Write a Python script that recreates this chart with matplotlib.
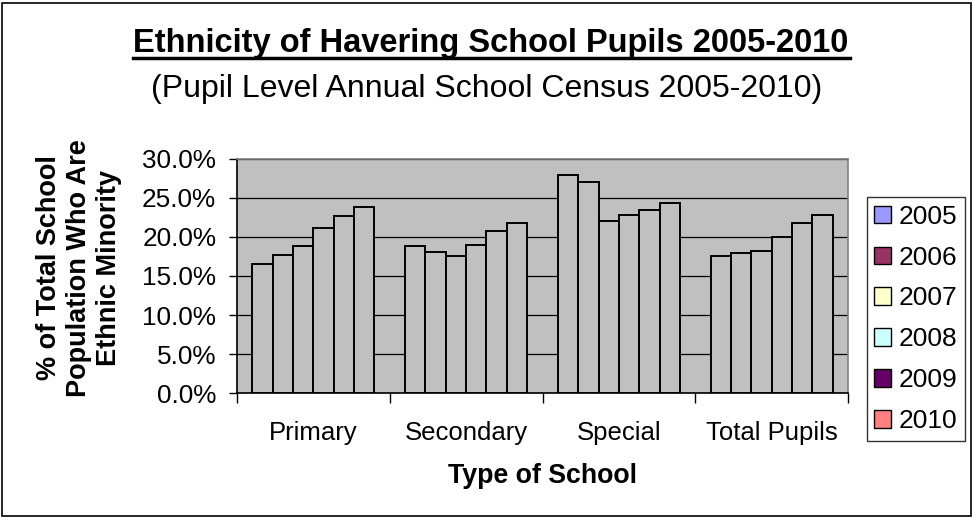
import matplotlib
matplotlib.use("Agg")
import matplotlib.pyplot as plt
from matplotlib.patches import Rectangle
import numpy as np

plt.rcParams['font.family'] = ['Liberation Sans', 'DejaVu Sans']

categories = ["Primary", "Secondary", "Special", "Total Pupils"]
years = ["2005", "2006", "2007", "2008", "2009", "2010"]
values = {
    "2005": [16.5, 18.8, 27.9, 17.5],
    "2006": [17.7, 18.1, 27.0, 17.9],
    "2007": [18.8, 17.5, 22.0, 18.2],
    "2008": [21.1, 19.0, 22.8, 20.0],
    "2009": [22.6, 20.7, 23.4, 21.8],
    "2010": [23.8, 21.8, 24.3, 22.8],
}
legend_colors = ["#9999FF", "#993366", "#FFFFCC", "#CCFFFF", "#660066", "#FF8080"]

W, H = 973, 517
fig = plt.figure(figsize=(W / 100, H / 100), dpi=100)
fig.patch.set_facecolor("white")

ax = fig.add_axes([237 / W, 1 - 393.3 / H, (848 - 237) / W, (393.3 - 158.5) / H])
ax.set_facecolor("#C0C0C0")

n = len(years)
group_w = 0.8
bw = group_w / n
x = np.arange(len(categories))
for i, yr in enumerate(years):
    ax.bar(x - group_w / 2 + bw * (i + 0.5), values[yr], width=bw,
           color="#C0C0C0", edgecolor="black", linewidth=1.4, zorder=3)

ax.set_xlim(-0.5, len(categories) - 0.5)
ax.set_ylim(0, 30)
ax.set_yticks(np.arange(0, 30.1, 5))
ax.set_yticklabels([f"{v:.1f}%" for v in np.arange(0, 30.1, 5)], fontsize=18.8)
ax.yaxis.grid(True, color="black", linewidth=0.9, zorder=1)
ax.set_axisbelow(True)

ax.set_xticks(x)
ax.set_xticklabels(categories, fontsize=18.5)
ax.tick_params(axis="x", length=0, pad=20)
ax.set_xticks(np.arange(-0.5, len(categories)), minor=True)
ax.tick_params(axis="x", which="minor", length=7, width=1, direction="out")
ax.tick_params(axis="y", length=6, width=1, direction="out", pad=9)

for s in ["top", "right"]:
    ax.spines[s].set_color("#808080")
    ax.spines[s].set_linewidth(1.2)
for s in ["left", "bottom"]:
    ax.spines[s].set_color("black")
    ax.spines[s].set_linewidth(1.2)

fig.text(542 / W, 1 - 476 / H, "Type of School", ha="center", va="center",
         fontsize=19.3, fontweight="bold")
fig.text(79 / W, 1 - 268 / H, "% of Total School\nPopulation Who Are\nEthnic Minority",
         ha="center", va="center", rotation=90, multialignment="center",
         fontsize=19.5, fontweight="bold", linespacing=1.18)

fig.text(491 / W, 1 - 52 / H, "Ethnicity of Havering School Pupils 2005-2010",
         ha="center", va="baseline", fontsize=23.5, fontweight="bold")
fig.add_artist(plt.Line2D([133 / W, 850 / W], [1 - 58 / H, 1 - 58 / H], color="black", linewidth=2.5))
fig.text(487 / W, 1 - 97 / H, "(Pupil Level Annual School Census 2005-2010)",
         ha="center", va="baseline", fontsize=23)

handles = [Rectangle((0, 0), 1, 1, facecolor=c, edgecolor="black", linewidth=1) for c in legend_colors]
leg = fig.legend(handles, years, loc="upper left",
                 bbox_to_anchor=(866.5 / W, 1 - 196.7 / H), fontsize=19,
                 frameon=True, fancybox=False, edgecolor="black",
                 handlelength=0.64, handleheight=0.64, handletextpad=0.26,
                 labelspacing=0.64, borderpad=0.3, borderaxespad=0)
leg.get_frame().set_linewidth(1)

fig.add_artist(Rectangle((1.5 / W, 1.5 / H), (W - 4) / W, (H - 4) / H, transform=fig.transFigure,
                         fill=False, edgecolor="black", linewidth=1.2))

fig.savefig("out.png", dpi=100)
